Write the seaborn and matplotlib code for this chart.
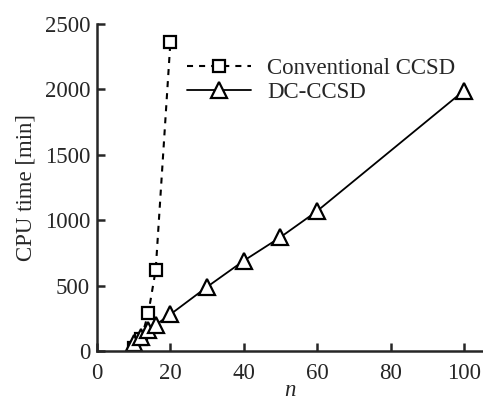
import pandas as pd
import seaborn as sns
import matplotlib.pyplot as plt

# Datos
n_conv = [10, 12, 14, 16, 20]
t_conv = [20, 90, 290, 620, 2360]

n_dc = [10, 12, 14, 16, 20, 30, 40, 50, 60, 100]
t_dc = [60, 110, 160, 200, 280, 490, 690, 870, 1070, 1990]

x_ticks = [0, 20, 40, 60, 80, 100]
y_ticks = [0, 500, 1000, 1500, 2000, 2500]

df = pd.concat([
    pd.DataFrame({'n': n_conv, 'cpu': t_conv, 'metodo': 'Conventional CCSD'}),
    pd.DataFrame({'n': n_dc, 'cpu': t_dc, 'metodo': 'DC-CCSD'}),
])

sns.set_style('ticks')
plt.rcParams['font.family'] = ['Liberation Serif', 'DejaVu Serif']
fs = 16.5

fig = plt.figure(figsize=(4.83, 4.01), dpi=100)
ax = fig.add_axes([0.2008, 0.1247, 0.7992, 0.8155])

sns.lineplot(data=df, x='n', y='cpu', style='metodo', hue='metodo',
             palette=['black', 'black'],
             dashes={'Conventional CCSD': (2.9, 2.9), 'DC-CCSD': ''},
             markers={'Conventional CCSD': 's', 'DC-CCSD': '^'},
             markerfacecolor='white', markeredgecolor='black',
             markeredgewidth=1.6, ax=ax)

# tamaño de marcadores y grosor de linea por serie
estilos = {'Conventional CCSD': (8, 1.5), 'DC-CCSD': (12, 1.3)}
for linea, nombre in zip(ax.lines[:2], ['Conventional CCSD', 'DC-CCSD']):
    linea.set_markersize(estilos[nombre][0])
    linea.set_linewidth(estilos[nombre][1])

ax.set_xlim(0, 105.2)
ax.set_ylim(0, 2500)
ax.set_xticks(x_ticks)
ax.set_yticks(y_ticks)
ax.tick_params(direction='in', length=6, width=1.8, labelsize=fs)
ax.tick_params(axis='x', pad=9)
ax.tick_params(axis='y', pad=5)
for s in ['top', 'right']:
    ax.spines[s].set_visible(False)
for s in ['left', 'bottom']:
    ax.spines[s].set_linewidth(1.8)

ax.set_xlabel('n', style='italic', fontsize=fs, labelpad=-3)
ax.set_ylabel('CPU time [min]', fontsize=fs, labelpad=6)

leg = ax.legend(loc='upper left', bbox_to_anchor=(0.21, 0.925), frameon=False,
                handlelength=2.8, handletextpad=0.7, labelspacing=0.15,
                fontsize=fs, borderaxespad=0)
for h, nombre in zip(leg.legend_handles, ['Conventional CCSD', 'DC-CCSD']):
    h.set_markerfacecolor('white')
    h.set_markeredgecolor('black')
    h.set_markersize(estilos[nombre][0])
    h.set_linewidth(estilos[nombre][1])

fig.savefig('out.png', dpi=100)
